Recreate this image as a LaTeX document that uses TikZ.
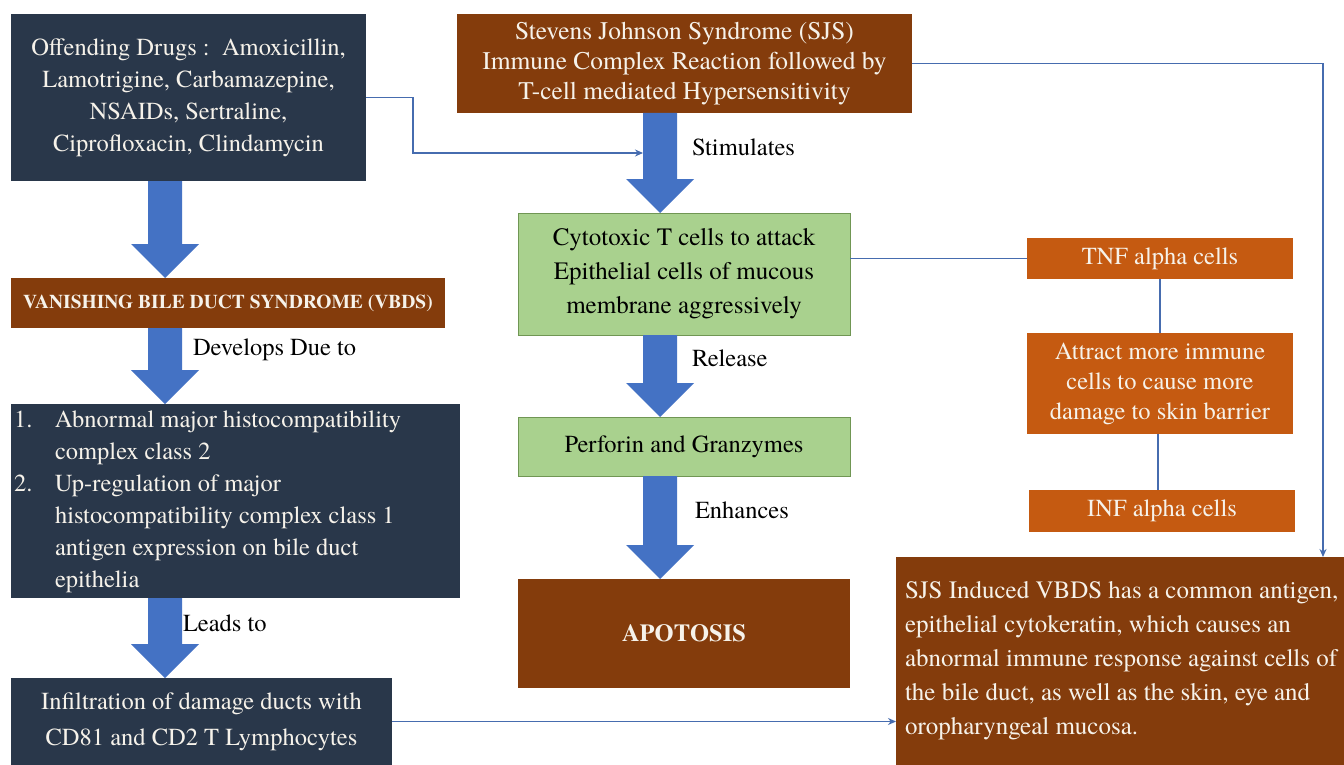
\documentclass[tikz,border=0pt]{standalone}
\usepackage{fontspec}
\setmainfont{texgyretermes}[Extension=.otf, UprightFont=*-regular, BoldFont=*-bold, ItalicFont=*-italic, BoldItalicFont=*-bolditalic]
\usetikzlibrary{arrows.meta,calc}
\definecolor{navy}{RGB}{41,55,74}
\definecolor{sjsbrown}{RGB}{132,60,12}
\definecolor{orng}{RGB}{197,90,17}
\definecolor{lgreen}{RGB}{169,209,142}
\definecolor{gborder}{RGB}{112,150,84}
\definecolor{fatblue}{RGB}{68,114,196}
\definecolor{linkblue}{RGB}{70,108,175}
\definecolor{cream}{RGB}{246,242,234}
\newcommand\fatarrow[3]{% #1 centre x, #2 from node, #3 to node
  \fill[fatblue] (#1-17,0 |- #2.south) -- (#1+17,0 |- #2.south)
    -- ($(#1,0 |- #3.north)+(17,-34)$) -- ($(#1,0 |- #3.north)+(34,-34)$)
    -- (#1,0 |- #3.north)
    -- ($(#1,0 |- #3.north)+(-34,-34)$) -- ($(#1,0 |- #3.north)+(-17,-34)$) -- cycle;}
\tikzset{
  dbox/.style={fill=navy, text=cream, align=center},
  bbox/.style={fill=sjsbrown, text=cream, align=center},
  obox/.style={fill=orng, text=cream, align=center},
  gbox/.style={fill=lgreen, draw=gborder, line width=1pt, text=black, align=center},
  lbl/.style={anchor=west, text=black},
  link/.style={draw=linkblue, line width=1.4pt},
  linkarrow/.style={-{Stealth[length=8pt,width=7pt]}},
}
\begin{document}
\begin{tikzpicture}[x=1pt,y=-1pt,
  every node/.style={inner sep=0pt, outer sep=0pt, font=\fontsize{24.5}{32}\selectfont}]
\useasboundingbox (0,0) rectangle (1344,765);
\fill[white] (0,0) rectangle (1344,765);

% left column
\node[dbox, minimum width=355pt, minimum height=167pt] (drugs) at (188.5,97.5)
  {Offending Drugs :\ \ Amoxicillin,\\ Lamotrigine, Carbamazepine,\\ NSAIDs, Sertraline,\\ Ciprofloxacin, Clindamycin};
\node[bbox, minimum width=434pt, minimum height=50pt, font=\bfseries\fontsize{19.5}{24}\selectfont] (vbds) at (228,303)
  {VANISHING BILE DUCT SYNDROME (VBDS)};
\node[dbox, minimum width=449pt, minimum height=194pt] (list) at (235.5,501) {};
\node[anchor=west, text=cream, align=left] (listtxt) at (14,501)
  {\begin{tabular}{@{}p{41pt}@{}l@{}}
   1. & Abnormal major histocompatibility\\
      & complex class 2\\
   2. & Up-regulation of major\\
      & histocompatibility complex class 1\\
      & antigen expression on bile duct\\
      & epithelia
   \end{tabular}};
\node[dbox, minimum width=381pt, minimum height=87pt, font=\fontsize{24.5}{36}\selectfont] (infil) at (201.5,721.5)
  {Infiltration of damage ducts with\\ CD81 and CD2 T Lymphocytes};

% middle column
\node[bbox, minimum width=455pt, minimum height=99pt, font=\fontsize{25.4}{30}\selectfont] (sjs) at (684.5,63.5)
  {Stevens Johnson Syndrome (SJS)\\ Immune Complex Reaction followed by\\ T-cell mediated Hypersensitivity};
\node[gbox, minimum width=332pt, minimum height=122pt, font=\fontsize{25}{34}\selectfont] (cyto) at (684,274)
  {Cytotoxic T cells to attack\\ Epithelial cells of mucous\\ membrane aggressively};
\node[gbox, minimum width=332pt, minimum height=59pt] (perf) at (684,446.5)
  {Perforin and Granzymes};
\node[bbox, minimum width=332pt, minimum height=109pt, font=\bfseries\fontsize{24.5}{32}\selectfont] (apo) at (684,633.5)
  {APOTOSIS};

% right column
\node[obox, minimum width=266pt, minimum height=41pt] (tnf) at (1160,258.5) {TNF alpha cells};
\node[obox, minimum width=266pt, minimum height=101pt, font=\fontsize{24.5}{30}\selectfont] (attr) at (1160,383.5)
  {Attract more immune\\ cells to cause more\\ damage to skin barrier};
\node[obox, minimum width=266pt, minimum height=42pt] (inf) at (1162,511) {INF alpha cells};
\node[bbox, minimum width=448pt, minimum height=208pt] (vbds2) at (1120,661) {};
\node[anchor=west, text=cream, align=left, font=\fontsize{25}{34}\selectfont] (vbds2txt) at (905,661)
  {SJS Induced VBDS has a common antigen,\\ epithelial cytokeratin, which causes an\\ abnormal immune response against cells of\\ the bile duct, as well as the skin, eye and\\ oropharyngeal mucosa.};

% fat arrows
\fatarrow{165}{drugs}{vbds}
\fatarrow{165}{vbds}{list}
\fatarrow{165}{list}{infil}
\fatarrow{660}{sjs}{cyto}
\fatarrow{660}{cyto}{perf}
\fatarrow{660}{perf}{apo}

% labels
\node[lbl] (lstim) at (692,147) {Stimulates};
\node[lbl] (lrel) at (692,358) {Release};
\node[lbl] (lenh) at (695,510) {Enhances};
\node[lbl] (ldev) at (193,350) {Develops Due to};
\node[lbl] (llead) at (183,623) {Leads to};

% thin connectors
\coordinate (stimin) at (643,153);
\draw[link, linkarrow] (drugs.east) -- ++(47,0) |- (stimin);
\draw[link, linkarrow] (sjs.east) -| (1323,0 |- vbds2.north);
\draw[link] (tnf.west) -- (tnf.west -| cyto.east);
\draw[link] (tnf.south) -- (attr.north);
\draw[link] ([xshift=-2pt]attr.south) -- ([xshift=-2pt]attr.south |- inf.north);
\draw[link, linkarrow] (infil.east) -- (infil.east -| vbds2.west);
\end{tikzpicture}
\end{document}
